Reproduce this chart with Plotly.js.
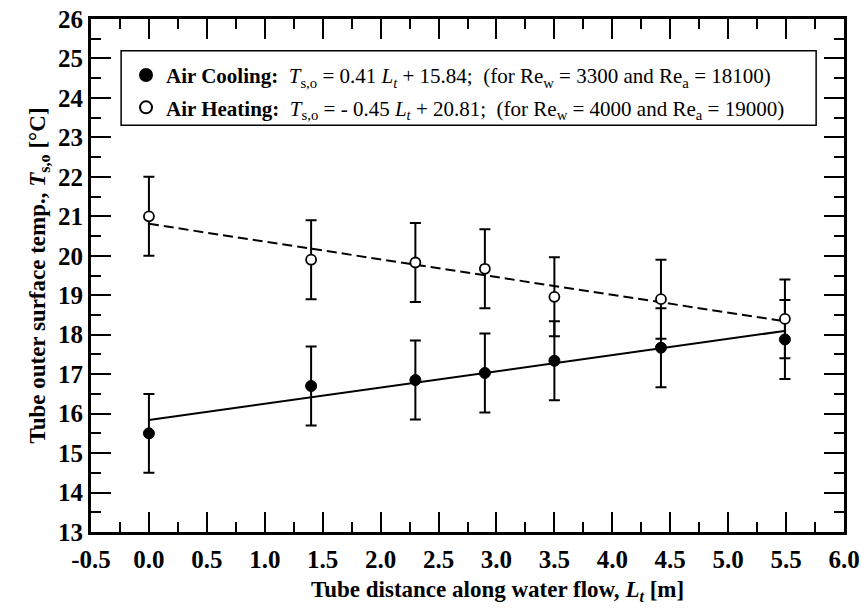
<!DOCTYPE html>
<html>
<head>
<meta charset="utf-8">
<script src="https://cdn.plot.ly/plotly-3.0.1.min.js"></script>
<style>html,body{margin:0;padding:0;background:#fff;}#chart{width:861px;height:611px;}</style>
</head>
<body>
<div id="chart"></div>
<script>
// Data
const tubeDistance = [0.0, 1.4, 2.3, 2.9, 3.5, 4.42, 5.49];
const coolingTemp  = [15.5, 16.7, 16.85, 17.03, 17.34, 17.67, 17.88];
const heatingTemp  = [21.0, 19.9, 19.83, 19.67, 18.96, 18.9, 18.4];
const coolingErr   = [1.0, 1.0, 1.0, 1.0, 1.0, 1.0, 1.0];
const heatingErr   = [1.0, 1.0, 1.0, 1.0, 1.0, 1.0, 1.0];
// Fitted lines (end points from the legend equations)
const fitX       = [0.0, 5.5];
const fitCooling = [15.84, 18.10];
const fitHeating = [20.81, 18.335];
// Tick labels
const xTickVals   = [-0.5, 0.0, 0.5, 1.0, 1.5, 2.0, 2.5, 3.0, 3.5, 4.0, 4.5, 5.0, 5.5, 6.0];
const xTickLabels = ['-0.5', '0.0', '0.5', '1.0', '1.5', '2.0', '2.5', '3.0', '3.5', '4.0', '4.5', '5.0', '5.5', '6.0'];

const coolingLabel = '<b>Air Cooling:</b>  <i>T</i><sub>s,o</sub> = 0.41 <i>L<sub>t</sub></i> + 15.84;  (for Re<sub>w</sub> = 3300 and Re<sub>a</sub> = 18100)';
const heatingLabel = '<b>Air Heating:</b>  <i>T</i><sub>s,o</sub> = - 0.45 <i>L<sub>t</sub></i> + 20.81;  (for Re<sub>w</sub> = 4000 and Re<sub>a</sub> = 19000)';
const xTitle = 'Tube distance along water flow, <i>L<sub>t</sub></i> [m]';
const yTitle = 'Tube outer surface temp., <i>T</i><sub>s,o</sub> [°C]';

const serif = 'Liberation Serif, Times New Roman, serif';

const traces = [
  {x: fitX, y: fitCooling, mode: 'lines', line: {color: '#000', width: 2}, showlegend: false, hoverinfo: 'skip'},
  {x: fitX, y: fitHeating, mode: 'lines', line: {color: '#000', width: 2, dash: '10px,5px'}, showlegend: false, hoverinfo: 'skip'},
  {x: tubeDistance, y: coolingTemp, mode: 'markers', name: coolingLabel, legendgroup: 'a',
   marker: {symbol: 'circle', size: 11, color: '#000', line: {color: '#000', width: 1}},
   error_y: {type: 'data', array: coolingErr, visible: true, color: '#000', thickness: 2, width: 5.5}},
  {x: tubeDistance, y: heatingTemp, mode: 'markers', name: heatingLabel, legendgroup: 'b',
   marker: {symbol: 'circle', size: 10, color: '#fff', line: {color: '#000', width: 1.8}},
   error_y: {type: 'data', array: heatingErr, visible: true, color: '#000', thickness: 2, width: 5.5}}
];

const layout = {
  width: 861, height: 611,
  margin: {l: 91, r: 17, t: 19, b: 79},
  paper_bgcolor: '#fff', plot_bgcolor: '#fff',
  font: {family: serif, color: '#000'},
  showlegend: true,
  legend: {
    x: 0.0465, y: 0.93, xanchor: 'left', yanchor: 'top',
    bgcolor: 'rgba(0,0,0,0)', borderwidth: 0,
    font: {family: serif, size: 21, color: '#000'},
    tracegroupgap: 2, itemsizing: 'constant'
  },
  xaxis: {
    range: [-0.5, 6.0], tickmode: 'array', tickvals: xTickVals, ticktext: xTickLabels,
    ticks: 'inside', ticklen: 20, tickwidth: 2, tickcolor: '#000',
    minor: {dtick: 0.25, tick0: 0, ticks: 'inside', ticklen: 10, tickwidth: 2, tickcolor: '#000'},
    showline: true, linewidth: 3, linecolor: '#000', mirror: 'ticks',
    showgrid: false, zeroline: false, ticklabelstandoff: 3,
    tickfont: {family: serif, size: 25, weight: 700, color: '#000'}
  },
  yaxis: {
    range: [13, 26], dtick: 1, tick0: 13,
    ticks: 'inside', ticklen: 20, tickwidth: 2, tickcolor: '#000',
    minor: {dtick: 0.5, ticks: 'inside', ticklen: 10, tickwidth: 2, tickcolor: '#000'},
    showline: true, linewidth: 3, linecolor: '#000', mirror: 'ticks',
    showgrid: false, zeroline: false,
    tickfont: {family: serif, size: 25, weight: 700, color: '#000'},
    title: {text: yTitle, font: {family: serif, size: 23, weight: 700, color: '#000'}, standoff: 6}
  },
  annotations: [
    {text: xTitle, xref: 'paper', yref: 'paper', x: 0.54, y: 0, xanchor: 'center', yanchor: 'middle', yshift: -59, showarrow: false,
     font: {family: serif, size: 23, weight: 700, color: '#000'}}
  ],
  shapes: [
    {type: 'rect', xref: 'paper', yref: 'paper', x0: 0.04, x1: 0.963, y0: 0.793, y1: 0.938, line: {color: '#000', width: 1.5}, fillcolor: 'rgba(0,0,0,0)'}
  ]
};

Plotly.newPlot('chart', traces, layout, {displayModeBar: false, staticPlot: true});
</script>
</body>
</html>
